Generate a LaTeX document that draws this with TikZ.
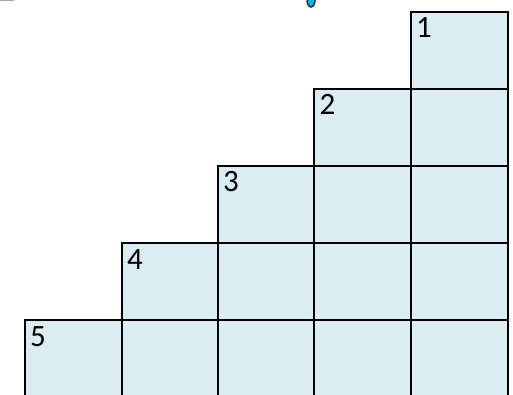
\documentclass[tikz,border=0pt]{standalone}
\usepackage{fontspec}
\setmainfont{Carlito}
\definecolor{cellfill}{HTML}{DAEDF3}
\definecolor{dropblue}{HTML}{00B0F0}
\begin{document}
\begin{tikzpicture}[x=1pt,y=-1pt,
  cell/.style={draw=black, line width=2.2pt, fill=cellfill, rectangle, inner sep=0pt,
    minimum width=97pt, minimum height=77pt, anchor=north west},
  numlabel/.style={font=\fontsize{31}{34}\selectfont, anchor=base west, inner sep=0pt}]
\useasboundingbox (0,0) rectangle (513,395);
\clip (0,0) rectangle (513,395);
% top fragments
\fill[gray!70] (0,0) rectangle (14,1.5);
\draw[fill=dropblue, draw=black!80, line width=1.5pt] (311,0.5) ellipse [x radius=4, y radius=6.5];
% columns: c = 0 (left) .. 4 (right)
\foreach \c/\x in {0/23.5,1/120.5,2/216.5,3/313,4/409.5}{
  \pgfmathtruncatemacro{\start}{4-\c}
  \foreach \r/\y in {0/11,1/88,2/165,3/242,4/319}{
    \ifnum\r<\start\relax\else
      \ifnum\r=4
        \node[cell, minimum height=86pt] (c\c r\r) at (\x,\y) {};
      \else
        \node[cell] (c\c r\r) at (\x,\y) {};
      \fi
    \fi
  }
}
\node[numlabel] (n1) at ([xshift=6.5pt,yshift=-27pt]c4r0.north west) {1};
\node[numlabel] (n2) at ([xshift=6.5pt,yshift=-27pt]c3r1.north west) {2};
\node[numlabel] (n3) at ([xshift=6.5pt,yshift=-27pt]c2r2.north west) {3};
\node[numlabel] (n4) at ([xshift=6.5pt,yshift=-27pt]c1r3.north west) {4};
\node[numlabel] (n5) at ([xshift=6.5pt,yshift=-27pt]c0r4.north west) {5};
\end{tikzpicture}
\end{document}
